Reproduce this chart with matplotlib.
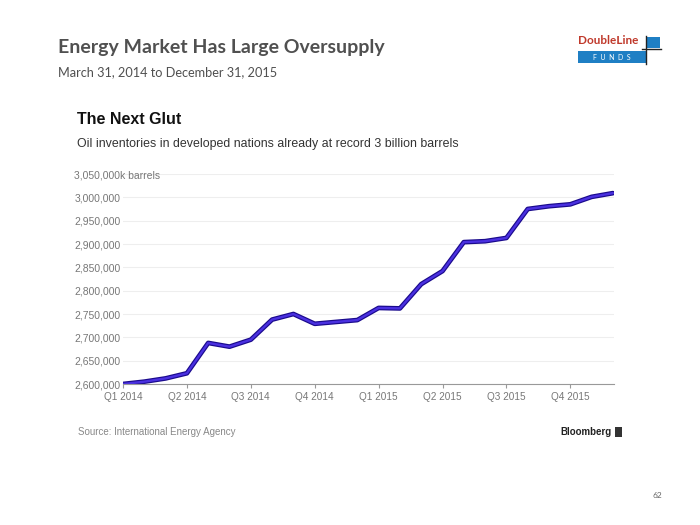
import matplotlib
matplotlib.use("Agg")
import matplotlib.pyplot as plt
from matplotlib.patches import Rectangle
from matplotlib.lines import Line2D

# ── Data (monthly OECD oil inventories, thousand barrels) ─────────────────────
months = list(range(24))  # Jan 2014 .. Dec 2015
inventories = [
    2600000, 2605000, 2612000, 2623000, 2688000, 2680000,
    2695000, 2738000, 2750000, 2729000, 2733000, 2737000,
    2763000, 2762000, 2814000, 2842000, 2904000, 2906000,
    2913000, 2975000, 2981000, 2985000, 3001000, 3009000,
]
quarter_pos = [0, 3, 6, 9, 12, 15, 18, 21]
quarter_labels = ["Q1 2014", "Q2 2014", "Q3 2014", "Q4 2014",
                  "Q1 2015", "Q2 2015", "Q3 2015", "Q4 2015"]
y_ticks = [2600000, 2650000, 2700000, 2750000, 2800000,
           2850000, 2900000, 2950000, 3000000, 3050000]
y_labels = ["2,600,000", "2,650,000", "2,700,000", "2,750,000", "2,800,000",
            "2,850,000", "2,900,000", "2,950,000", "3,000,000",
            "3,050,000k barrels"]

NARROW = ["Liberation Sans", "DejaVu Sans"]
SLIDE = ["Lato", "DejaVu Sans"]

W, H = 700, 525
fig = plt.figure(figsize=(7, 5.25), dpi=100)
fig.patch.set_facecolor("white")


def fx(px):
    return px / W


def fy(py):
    return 1 - py / H


# ── Slide header ──────────────────────────────────────────────────────────────
fig.text(fx(58), fy(48), "Energy Market Has Large Oversupply", family=SLIDE,
         fontsize=14, fontweight="bold", color="#505050", va="center")
fig.text(fx(58), fy(72), "March 31, 2014 to December 31, 2015", family=SLIDE,
         fontsize=9.2, color="#505050", va="center")

# DoubleLine logo
fig.text(fx(578), fy(41), "DoubleLine", family=SLIDE, fontsize=8.5,
         fontweight="bold", color="#c0392b", va="center")
fig.add_artist(Rectangle((fx(578), fy(63)), fx(68), fy(51) - fy(63),
                         transform=fig.transFigure, color="#1f7fc4", lw=0))
fig.text(fx(612), fy(57), "F  U  N  D  S", family=SLIDE, fontsize=5,
         color="white", ha="center", va="center")
fig.add_artist(Rectangle((fx(647), fy(48)), fx(13), fy(37) - fy(48),
                         transform=fig.transFigure, color="#1f7fc4", lw=0))
fig.add_artist(Line2D([fx(646), fx(646)], [fy(36), fy(64)],
                      transform=fig.transFigure, color="#222222", lw=1))
fig.add_artist(Line2D([fx(642), fx(661)], [fy(49), fy(49)],
                      transform=fig.transFigure, color="#222222", lw=1))

# ── Embedded chart titles ─────────────────────────────────────────────────────
fig.text(fx(77), fy(120), "The Next Glut", family=NARROW, fontsize=11.5,
         fontweight="bold", color="#111111", va="center")
fig.text(fx(77), fy(144),
         "Oil inventories in developed nations already at record 3 billion barrels",
         family=NARROW, fontsize=8.9, color="#333333", va="center")

# ── Main line chart ───────────────────────────────────────────────────────────
ax = fig.add_axes([fx(123), fy(384), fx(614) - fx(123), (384 - 174) / H])
ax.plot(months, inventories, color="#1a0a8c", lw=3.4, solid_capstyle="round",
        solid_joinstyle="round", zorder=3)
ax.plot(months, inventories, color="#4a30e0", lw=1.7, solid_capstyle="round",
        solid_joinstyle="round", zorder=4)

ax.set_xlim(0, 23.05)
ax.set_ylim(2600000, 3050000)
ax.set_yticks(y_ticks)
ax.set_yticklabels(y_labels, family=NARROW, fontsize=7.5, color="#777777",
                   ha="left")
ax.tick_params(axis="y", length=0, pad=35)
ax.set_xticks(quarter_pos)
ax.set_xticklabels(quarter_labels, family=NARROW, fontsize=7.2, color="#777777")
ax.tick_params(axis="x", length=3, color="#999999", pad=3)

ax.grid(axis="y", color="#eeeeee", lw=0.8)
ax.set_axisbelow(True)
for side in ["top", "right", "left"]:
    ax.spines[side].set_visible(False)
ax.spines["bottom"].set_color("#999999")
ax.spines["bottom"].set_linewidth(0.8)
ax.spines["bottom"].set_zorder(5)

# ── Footer ────────────────────────────────────────────────────────────────────
fig.text(fx(78), fy(432), "Source: International Energy Agency", family=NARROW,
         fontsize=7, color="#888888", va="center")
fig.text(fx(612), fy(432), "Bloomberg", family=NARROW, fontsize=7,
         fontweight="bold", color="#222222", va="center", ha="right")
fig.add_artist(Rectangle((fx(615), fy(437)), fx(7), fy(427) - fy(437),
                         transform=fig.transFigure, color="#333333", lw=0))
fig.text(fx(662), fy(495), "62", family=SLIDE, fontsize=6, color="#666666",
         va="center", ha="right")

fig.savefig("out.png", dpi=100, facecolor="white")
